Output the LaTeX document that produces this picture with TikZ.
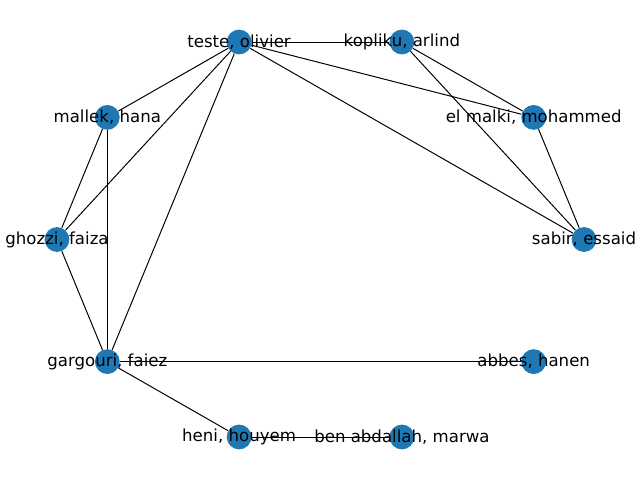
\documentclass[tikz,border=0pt]{standalone}
\usepackage{fontspec}
\setmainfont{DejaVu Sans}
\usetikzlibrary{backgrounds}
\definecolor{nodeblue}{HTML}{1F77B4}
\tikzset{
  vertex/.style={circle, fill=nodeblue, minimum size=0.62cm, inner sep=0pt},
  vname/.style={font=\fontsize{11.8}{14}\selectfont, inner sep=0pt},
  link/.style={line width=0.7pt}
}

\begin{document}
\begin{tikzpicture}[x=0.025cm, y=-0.025cm]
          \useasboundingbox (0, 0) rectangle (640, 480);
          \node[vertex] (sabir) at (584, 239.5) {};
          \node[vertex] (elmalki) at (533.7, 117.4) {};
          \node[vertex] (kopliku) at (401.9, 42) {};
          \node[vertex] (teste) at (239.1, 42) {};
          \node[vertex] (mallek) at (107.3, 117.4) {};
          \node[vertex] (ghozzi) at (57, 239.5) {};
          \node[vertex] (gargouri) at (107.3, 361.6) {};
          \node[vertex] (heni) at (239.1, 437) {};
          \node[vertex] (benabdallah) at (401.9, 437) {};
          \node[vertex] (abbes) at (533.7, 361.6) {};
          \begin{scope}[on background layer]
            \draw[link] (teste) -- (kopliku);
            \draw[link] (teste) -- (elmalki);
            \draw[link] (teste) -- (sabir);
            \draw[link] (teste) -- (mallek);
            \draw[link] (teste) -- (ghozzi);
            \draw[link] (teste) -- (gargouri);
            \draw[link] (kopliku) -- (elmalki);
            \draw[link] (kopliku) -- (sabir);
            \draw[link] (elmalki) -- (sabir);
            \draw[link] (mallek) -- (ghozzi);
            \draw[link] (mallek) -- (gargouri);
            \draw[link] (ghozzi) -- (gargouri);
            \draw[link] (gargouri) -- (abbes);
            \draw[link] (gargouri) -- (heni);
            \draw[link] (heni) -- (benabdallah);
          \end{scope}
          \node[vname] at (sabir) {sabir, essaid};
          \node[vname] at (elmalki) {el malki, mohammed};
          \node[vname] at (kopliku) {kopliku, arlind};
          \node[vname] at (teste) {teste, olivier};
          \node[vname] at (mallek) {mallek, hana};
          \node[vname] at (ghozzi) {ghozzi, faiza};
          \node[vname] at (gargouri) {gargouri, faiez};
          \node[vname] at (heni) {heni, houyem};
          \node[vname] at (benabdallah) {ben abdallah, marwa};
          \node[vname] at (abbes) {abbes, hanen};
\end{tikzpicture}
\end{document}
